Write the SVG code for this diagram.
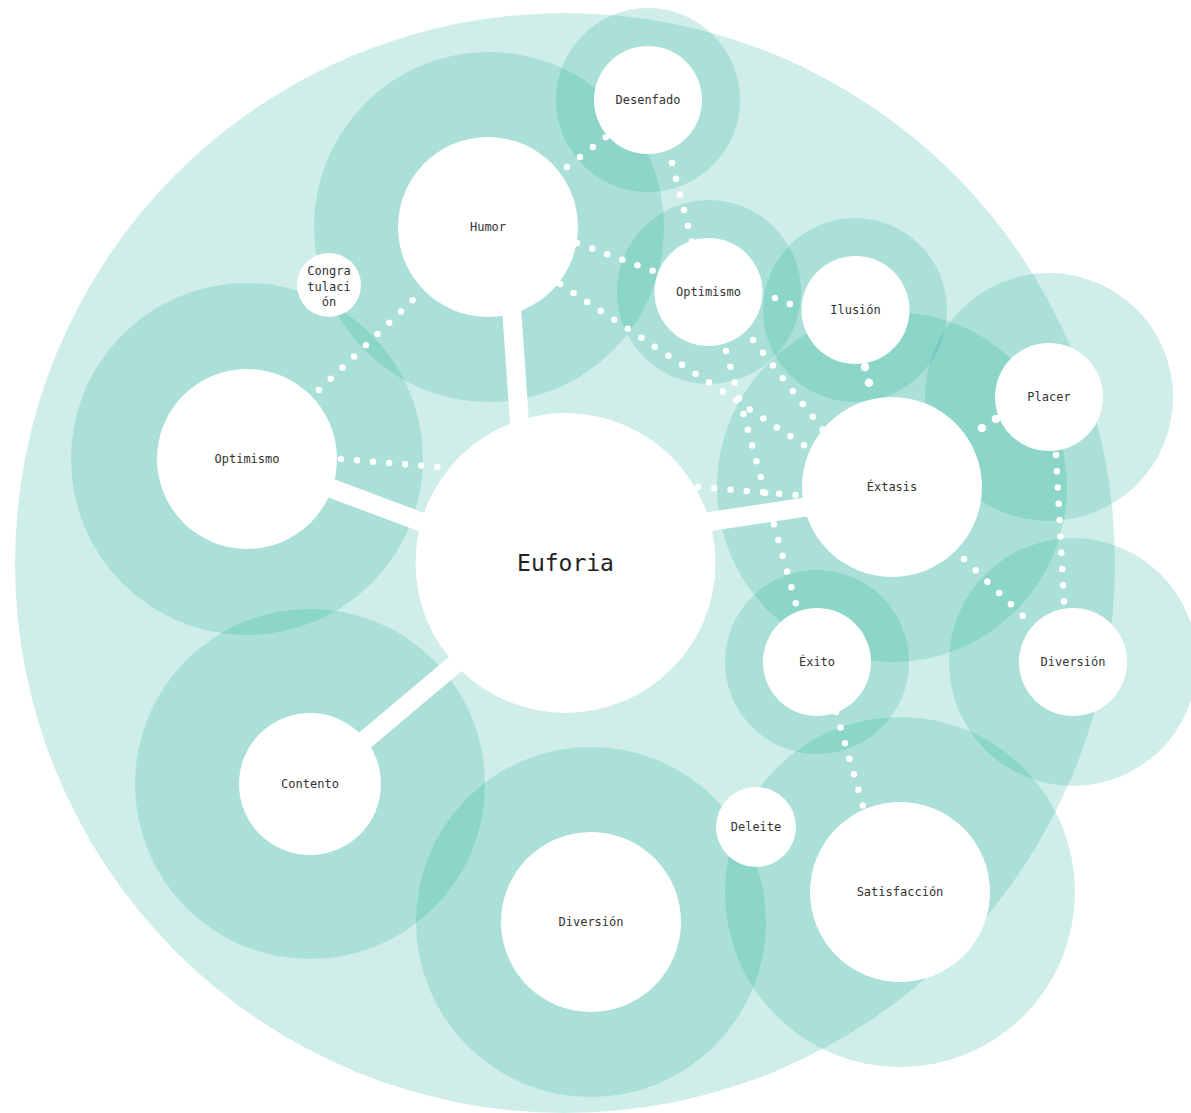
<svg xmlns="http://www.w3.org/2000/svg" width="1191" height="1113" viewBox="0 0 1191 1113">
<style>
.halo{fill:#14aa91;fill-opacity:0.2}
.node{fill:#ffffff}
.lbl{font-family:"DejaVu Sans Mono","Liberation Mono",monospace;font-size:12px;fill:#333333;text-anchor:middle;dominant-baseline:central}
.big{font-size:23px;fill:#222222}
.thick{stroke:#ffffff;stroke-width:19;fill:none}
.dots{stroke:#ffffff;stroke-width:6.5;stroke-linecap:round;fill:none}
.dotsL{stroke:#ffffff;stroke-width:8.5;stroke-linecap:round;fill:none}
</style>
<rect width="1191" height="1113" fill="#ffffff"/>
<g id="halos">
<circle id="halo-euforia" class="halo" cx="565" cy="563" r="550"/>
<circle id="halo-humor" class="halo" cx="489" cy="227" r="175"/>
<circle id="halo-desenfado" class="halo" cx="648" cy="100" r="92"/>
<circle id="halo-optimismo-top" class="halo" cx="709" cy="292" r="92"/>
<circle id="halo-ilusion" class="halo" cx="855" cy="310" r="92"/>
<circle id="halo-extasis" class="halo" cx="892" cy="487" r="175"/>
<circle id="halo-placer" class="halo" cx="1049" cy="397" r="124"/>
<circle id="halo-diversion-right" class="halo" cx="1073" cy="662" r="124"/>
<circle id="halo-exito" class="halo" cx="817" cy="662" r="92"/>
<circle id="halo-satisfaccion" class="halo" cx="900" cy="892" r="175"/>
<circle id="halo-diversion-bottom" class="halo" cx="591" cy="922" r="175"/>
<circle id="halo-contento" class="halo" cx="310" cy="784" r="175"/>
<circle id="halo-optimismo-left" class="halo" cx="247" cy="459" r="176"/>
</g>
<g id="connectors">
<line class="thick" x1="511" y1="300" x2="520" y2="430"/>
<line class="thick" x1="325" y1="486" x2="432" y2="526"/>
<line class="thick" x1="352" y1="751" x2="466" y2="655"/>
<line class="thick" x1="700" y1="523" x2="812" y2="506"/>
<line class="dots" x1="567" y1="167" x2="606" y2="137" stroke-dasharray="0 16.3"/>
<line class="dots" x1="672" y1="163" x2="692" y2="242" stroke-dasharray="0 16.2"/>
<line class="dots" x1="577" y1="243" x2="653" y2="271" stroke-dasharray="0 16.1"/>
<line class="dots" x1="560" y1="284" x2="805" y2="446" stroke-dasharray="0 16.25"/>
<line class="dots" x1="726" y1="351" x2="796" y2="604" stroke-dasharray="0 16.35"/>
<line class="dots" x1="753" y1="340" x2="823" y2="430" stroke-dasharray="0 16.2"/>
<line class="dots" x1="775" y1="298" x2="790" y2="304" stroke-dasharray="0 16"/>
<line class="dotsL" x1="865" y1="367" x2="869" y2="383" stroke-dasharray="0 16.3"/>
<line class="dots" x1="698" y1="487" x2="796" y2="495" stroke-dasharray="0 16.3"/>
<line class="dots" x1="319" y1="390" x2="413" y2="300" stroke-dasharray="0 16.2"/>
<line class="dots" x1="341" y1="459" x2="438" y2="467" stroke-dasharray="0 16.1"/>
<line class="dotsL" x1="982" y1="428" x2="996" y2="419" stroke-dasharray="0 16.5"/>
<line class="dots" x1="1056" y1="455" x2="1064" y2="602" stroke-dasharray="0 16.3"/>
<line class="dots" x1="964" y1="559" x2="1023" y2="616" stroke-dasharray="0 16.3"/>
<line class="dots" x1="836" y1="712" x2="863" y2="806" stroke-dasharray="0 16.2"/>
</g>
<g id="node-euforia"><circle class="node" cx="565.5" cy="563" r="150"/><text class="lbl big" x="565.5" y="563">Euforia</text></g>
<g id="node-humor"><circle class="node" cx="488" cy="227" r="90"/><text class="lbl" x="488" y="227">Humor</text></g>
<g id="node-desenfado"><circle class="node" cx="648" cy="100" r="54"/><text class="lbl" x="648" y="100">Desenfado</text></g>
<g id="node-optimismo-top"><circle class="node" cx="708.5" cy="292" r="54"/><text class="lbl" x="708.5" y="292">Optimismo</text></g>
<g id="node-ilusion"><circle class="node" cx="855.5" cy="310" r="54"/><text class="lbl" x="855.5" y="310">Ilusión</text></g>
<g id="node-extasis"><circle class="node" cx="892" cy="487" r="90"/><text class="lbl" x="892" y="487">Éxtasis</text></g>
<g id="node-placer"><circle class="node" cx="1049" cy="397" r="54"/><text class="lbl" x="1049" y="397">Placer</text></g>
<g id="node-diversion-right"><circle class="node" cx="1073" cy="662" r="54"/><text class="lbl" x="1073" y="662">Diversión</text></g>
<g id="node-exito"><circle class="node" cx="817" cy="662" r="54"/><text class="lbl" x="817" y="662">Éxito</text></g>
<g id="node-satisfaccion"><circle class="node" cx="900" cy="892" r="90"/><text class="lbl" x="900" y="892">Satisfacción</text></g>
<g id="node-deleite"><circle class="node" cx="756" cy="827" r="40"/><text class="lbl" x="756" y="827">Deleite</text></g>
<g id="node-diversion-bottom"><circle class="node" cx="591" cy="922" r="90"/><text class="lbl" x="591" y="922">Diversión</text></g>
<g id="node-contento"><circle class="node" cx="310" cy="784" r="71"/><text class="lbl" x="310" y="784">Contento</text></g>
<g id="node-optimismo-left"><circle class="node" cx="247" cy="459" r="90"/><text class="lbl" x="247" y="459">Optimismo</text></g>
<g id="node-congratulacion"><circle class="node" cx="329" cy="285" r="32"/><text class="lbl" x="329" y="271">Congra</text><text class="lbl" x="329" y="286.5">tulaci</text><text class="lbl" x="329" y="302">ón</text></g>
</svg>
